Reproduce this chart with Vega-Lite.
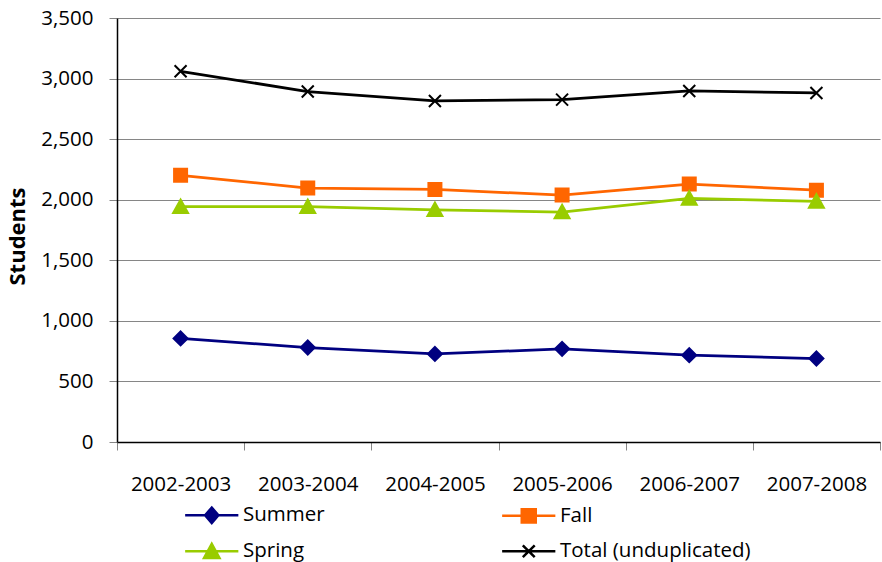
{
  "$schema": "https://vega.github.io/schema/vega-lite/v6.json",
  "width": 763,
  "height": 424,
  "autosize": {"type": "none"},
  "padding": {"left": 117, "top": 18, "right": 2, "bottom": 120},
  "background": "white",
  "config": {
    "font": "Open Sans",
    "view": {"stroke": null},
    "axis": {"labelFont": "Open Sans", "labelFontSize": 20.5, "labelColor": "#000000", "titleFont": "Open Sans", "titleColor": "#000000"}
  },
  "data": {
    "values": [
      {"year": "2002-2003", "series": "Summer", "students": 855},
      {"year": "2003-2004", "series": "Summer", "students": 780},
      {"year": "2004-2005", "series": "Summer", "students": 727},
      {"year": "2005-2006", "series": "Summer", "students": 769},
      {"year": "2006-2007", "series": "Summer", "students": 717},
      {"year": "2007-2008", "series": "Summer", "students": 689},
      {"year": "2002-2003", "series": "Fall", "students": 2201},
      {"year": "2003-2004", "series": "Fall", "students": 2096},
      {"year": "2004-2005", "series": "Fall", "students": 2085},
      {"year": "2005-2006", "series": "Fall", "students": 2038},
      {"year": "2006-2007", "series": "Fall", "students": 2129},
      {"year": "2007-2008", "series": "Fall", "students": 2079},
      {"year": "2002-2003", "series": "Spring", "students": 1942},
      {"year": "2003-2004", "series": "Spring", "students": 1942},
      {"year": "2004-2005", "series": "Spring", "students": 1917},
      {"year": "2005-2006", "series": "Spring", "students": 1898},
      {"year": "2006-2007", "series": "Spring", "students": 2011},
      {"year": "2007-2008", "series": "Spring", "students": 1986},
      {"year": "2002-2003", "series": "Total (unduplicated)", "students": 3060},
      {"year": "2003-2004", "series": "Total (unduplicated)", "students": 2893},
      {"year": "2004-2005", "series": "Total (unduplicated)", "students": 2815},
      {"year": "2005-2006", "series": "Total (unduplicated)", "students": 2826},
      {"year": "2006-2007", "series": "Total (unduplicated)", "students": 2898},
      {"year": "2007-2008", "series": "Total (unduplicated)", "students": 2881}
    ]
  },
  "encoding": {
    "x": {
      "field": "year", "type": "ordinal",
      "scale": {"type": "band", "paddingInner": 0, "paddingOuter": 0},
      "axis": {"title": null, "labelAngle": 0, "tickBand": "extent", "tickSize": 8, "tickColor": "#868686", "domainColor": "#000000", "domainWidth": 1.5, "labelPadding": 24, "grid": false}
    },
    "y": {
      "field": "students", "type": "quantitative",
      "scale": {"domain": [0, 3500], "nice": false},
      "axis": {"title": "Students", "titleFontSize": 22, "titleFontWeight": "bold", "titleAngle": -90, "titleAlign": "center", "titleBaseline": "bottom", "titleX": -88, "titleY": 218, "values": [0, 500, 1000, 1500, 2000, 2500, 3000, 3500], "format": ",.0f", "grid": true, "gridColor": "#868686", "gridWidth": 1.2, "tickSize": 8, "tickColor": "#868686", "domainColor": "#000000", "domainWidth": 1.5, "labelPadding": 16}
    }
  },
  "layer": [
    {
      "mark": {"type": "line", "strokeWidth": 2.75},
      "encoding": {
        "color": {
          "field": "series", "type": "nominal",
          "scale": {"domain": ["Summer", "Fall", "Spring", "Total (unduplicated)"], "range": ["#000080", "#FF6600", "#99CC00", "#000000"]},
          "legend": null
        }
      }
    },
    {
      "mark": {"type": "point", "filled": true, "opacity": 1, "size": 100, "strokeWidth": 2},
      "encoding": {
        "fill": {
          "field": "series", "type": "nominal",
          "scale": {"domain": ["Summer", "Fall", "Spring", "Total (unduplicated)"], "range": ["#000080", "#FF6600", "#99CC00", "#000000"]},
          "legend": null
        },
        "stroke": {
          "field": "series", "type": "nominal",
          "scale": {"domain": ["Summer", "Fall", "Spring", "Total (unduplicated)"], "range": ["#000080", "#FF6600", "#99CC00", "#000000"]},
          "legend": null
        },
        "shape": {
          "field": "series", "type": "nominal",
          "scale": {"domain": ["Summer", "Fall", "Spring", "Total (unduplicated)"], "range": ["M0,-1.4L1.4,0L0,1.4L-1.4,0Z", "M-1.3,-1.3H1.3V1.3H-1.3Z", "M0,-1.45L1.5,1.25L-1.5,1.25Z", "M-1.2,-1.2L1.2,1.2M-1.2,1.2L1.2,-1.2"]},
          "legend": null
        }
      }
    },
    {
      "transform": [{"filter": "datum.students < 0"}],
      "mark": {"type": "point", "filled": true, "opacity": 1, "strokeWidth": 2.5},
      "encoding": {
        "x": null,
        "y": null,
        "fill": {
          "field": "series", "type": "nominal",
          "scale": {"domain": ["Summer", "Fall", "Spring", "Total (unduplicated)"], "range": ["#000080", "#FF6600", "#99CC00", "#000000"]},
          "legend": {"orient": "none", "direction": "horizontal", "legendX": 84.5, "legendY": 487, "columns": 2, "title": null, "padding": 0, "symbolSize": 196, "symbolStrokeWidth": 2.5, "labelOffset": 21, "labelLimit": 400, "labelFont": "Open Sans", "labelFontSize": 20.5, "labelColor": "#000000", "columnPadding": 171, "rowPadding": 10}
        },
        "stroke": {
          "field": "series", "type": "nominal",
          "scale": {"domain": ["Summer", "Fall", "Spring", "Total (unduplicated)"], "range": ["#000080", "#FF6600", "#99CC00", "#000000"]},
          "legend": {"orient": "none", "direction": "horizontal", "legendX": 84.5, "legendY": 487, "columns": 2, "title": null, "padding": 0, "symbolSize": 196, "symbolStrokeWidth": 2.5, "labelOffset": 21, "labelLimit": 400, "labelFont": "Open Sans", "labelFontSize": 20.5, "labelColor": "#000000", "columnPadding": 171, "rowPadding": 10}
        },
        "shape": {
          "field": "series", "type": "nominal",
          "scale": {"domain": ["Summer", "Fall", "Spring", "Total (unduplicated)"], "range": ["M-3.8,0H3.8M0,-1.1L0.95,0L0,1.1L-0.95,0Z", "M-3.8,0H3.8M-1,-0.95H1V0.95H-1Z", "M-3.8,0H3.8M0,-1.05L1.1,0.95L-1.1,0.95Z", "M-3.8,0H3.8M-0.85,-0.85L0.85,0.85M-0.85,0.85L0.85,-0.85"]},
          "legend": {"orient": "none", "direction": "horizontal", "legendX": 84.5, "legendY": 487, "columns": 2, "title": null, "padding": 0, "symbolSize": 196, "symbolStrokeWidth": 2.5, "labelOffset": 21, "labelLimit": 400, "labelFont": "Open Sans", "labelFontSize": 20.5, "labelColor": "#000000", "columnPadding": 171, "rowPadding": 10}
        }
      }
    }
  ],
  "resolve": {"scale": {"color": "independent", "fill": "independent", "stroke": "independent", "shape": "independent"}}
}
